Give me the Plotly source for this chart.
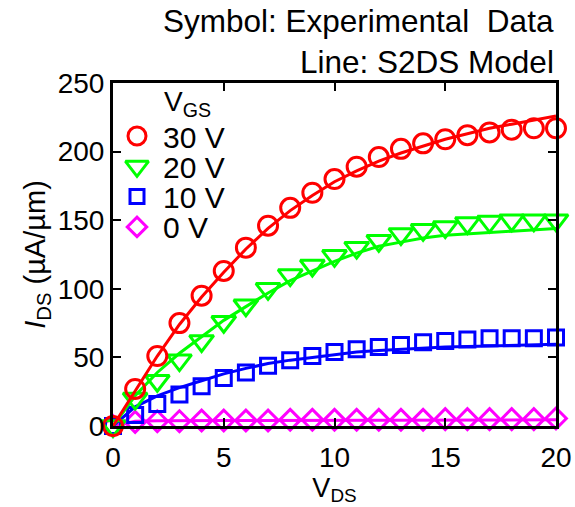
import plotly.graph_objects as go

# Drain voltage sweep (V)
vds = list(range(0, 21))

# Measured drain current (uA/um) for each gate voltage
exp_30 = [0, 27, 51, 75, 95, 113, 130, 146, 159, 170, 180, 189, 196, 202, 206, 209, 212, 214, 216, 217, 217]
exp_20 = [0, 20, 33, 48, 62, 76, 88, 100, 110, 117, 124, 130, 135, 140, 143, 145, 148, 149, 150, 150, 150]
exp_10 = [0, 8, 16, 23, 29, 35, 39, 44, 48, 51, 54, 56, 57.5, 59, 61, 62, 63, 64, 64, 64, 64.5]
exp_0 = [0, 3, 3.5, 3.5, 4, 4, 4, 4, 4.5, 4.5, 4.5, 4.5, 4.5, 4.5, 4.5, 5, 5, 5, 5, 5, 5.5]

# S2DS model curves
mod_30 = [0, 26, 51, 74, 94, 112, 129, 144, 157, 168, 178, 186, 193, 199, 204, 209, 213, 217, 220, 223, 226]
mod_20 = [0, 22, 39, 53, 65, 77, 87, 97, 106, 113, 120, 126, 131, 134, 137, 139, 140, 141, 142, 143, 144]
mod_10 = [0, 14, 22, 28, 33, 38, 42, 45.5, 48, 50, 52, 54, 55, 56, 57, 57.5, 58, 58.5, 59, 59, 59.5]
mod_0 = [0, 3.5, 3.8, 4, 4, 4, 4, 4, 4, 4, 4, 4, 4, 4, 4, 4, 4, 4.2, 4.3, 4.4, 4.5]

# Gate voltage labels, top to bottom in the key
vgs_labels = ["30 V", "20 V", "10 V", "0 V"]

series = {
    # label: (measured, model, colour, symbol, marker size)
    "30 V": (exp_30, mod_30, "#FF0000", "circle-open", 19),
    "20 V": (exp_20, mod_20, "#00FF00", "triangle-down-open", 21),
    "10 V": (exp_10, mod_10, "#0000FF", "square-open", 15),
    "0 V": (exp_0, mod_0, "#FF00FF", "diamond-open", 16),
}

FONT = "Liberation Sans, Arial, sans-serif"
W, H = 575, 507
L, R, T, B = 113, 19, 83, 81
PW, PH = W - L - R, H - T - B


def px_to_paper(xp, yp):
    """Page pixel position -> paper coordinates of the plot area."""
    return (xp - L) / PW, (H - B - yp) / PH


fig = go.Figure()

# draw lowest gate voltage first so the 30 V curve sits on top
for label in reversed(vgs_labels):
    meas, model, colour, symbol, size = series[label]
    fig.add_trace(go.Scatter(
        x=vds, y=meas, mode="markers", name=label, showlegend=False,
        marker=dict(symbol=symbol, size=size, color=colour,
                    line=dict(color=colour, width=3)),
        cliponaxis=False,
    ))
    fig.add_trace(go.Scatter(
        x=vds, y=model, mode="lines", showlegend=False,
        line=dict(color=colour, width=3), cliponaxis=False,
    ))

# Key drawn on an overlay axis measured in pixels from the page corner
key_marker_x = 137
key_text_x = 161
key_first_y = 136
key_step = 30.3
for i, label in enumerate(vgs_labels):
    _, _, colour, symbol, size = series[label]
    ky = key_first_y + i * key_step
    fig.add_trace(go.Scatter(
        x=[key_marker_x], y=[ky], xaxis="x2", yaxis="y2", mode="markers",
        showlegend=False, hoverinfo="skip", cliponaxis=False,
        marker=dict(symbol=symbol, size=size - 1, color=colour,
                    line=dict(color=colour, width=3)),
    ))
    kx, kyp = px_to_paper(key_text_x, ky + 1)
    fig.add_annotation(text=label, xref="paper", yref="paper", x=kx, y=kyp,
                       xanchor="left", yanchor="middle", showarrow=False,
                       font=dict(size=30, color="black", family=FONT))

gx, gy = px_to_paper(162, 104)
fig.add_annotation(text="V<sub>GS</sub>", xref="paper", yref="paper", x=gx, y=gy,
                   xanchor="left", yanchor="middle", showarrow=False,
                   font=dict(size=28, color="black", family=FONT))

tx, ty1 = px_to_paper(556, 21)
_, ty2 = px_to_paper(556, 62)
fig.add_annotation(text="Symbol: Experimental&nbsp; Data", xref="paper", yref="paper",
                   x=tx, y=ty1, xanchor="right", yanchor="middle", showarrow=False,
                   font=dict(size=31.5, color="black", family=FONT))
fig.add_annotation(text="Line: S2DS Model", xref="paper", yref="paper",
                   x=tx, y=ty2, xanchor="right", yanchor="middle", showarrow=False,
                   font=dict(size=31.5, color="black", family=FONT))

axis_common = dict(
    showline=True, linecolor="black", linewidth=3, mirror="ticks",
    ticks="inside", ticklen=8, tickwidth=2, tickcolor="black",
    showgrid=False, zeroline=False,
    tickfont=dict(size=28, color="black", family=FONT),
)

fig.update_xaxes(range=[0, 20], tickvals=[0, 5, 10, 15, 20], ticklabelstandoff=4,
                 title=dict(text="V<sub>DS</sub>", font=dict(size=27, color="black", family=FONT), standoff=0),
                 **axis_common)
fig.update_yaxes(range=[0, 250], tickvals=[0, 50, 100, 150, 200, 250],
                 title=dict(text="<i>I</i><sub>DS</sub> (µA/µm)", font=dict(size=29, color="black", family=FONT), standoff=4),
                 **axis_common)

fig.update_layout(
    width=W, height=H,
    margin=dict(l=L, r=R, t=T, b=B, autoexpand=False),
    paper_bgcolor="white", plot_bgcolor="white",
    showlegend=False,
    xaxis2=dict(overlaying="x", anchor="y2", range=[L, W - R], visible=False, fixedrange=True),
    yaxis2=dict(overlaying="y", anchor="x2", range=[H - B, T], visible=False, fixedrange=True),
)

fig.write_html("out.html")
